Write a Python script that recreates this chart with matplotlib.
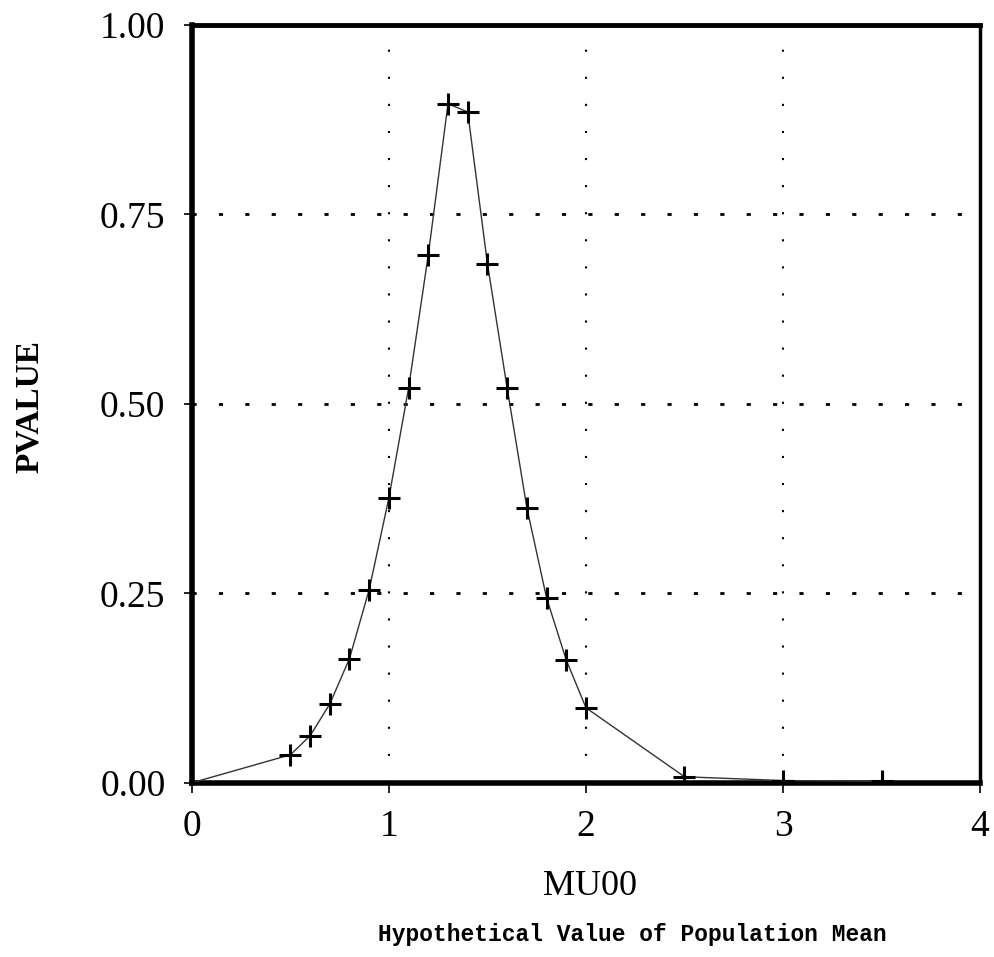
import numpy as np
import matplotlib.pyplot as plt

mu00 = [0.0, 0.5, 0.6, 0.7, 0.8, 0.9, 1.0, 1.1, 1.2, 1.3, 1.4, 1.5, 1.6, 1.7, 1.8, 1.9, 2.0, 2.5, 3.0, 3.5]
pvalue = [0.0, 0.037, 0.062, 0.104, 0.164, 0.255, 0.376, 0.521, 0.697, 0.896, 0.885, 0.685, 0.521, 0.363, 0.244, 0.162, 0.099, 0.008, 0.003, 0.002]

x_ticks = [0, 1, 2, 3, 4]
y_ticks = [0.0, 0.25, 0.5, 0.75, 1.0]

fig = plt.figure(figsize=(9.94, 9.57), dpi=100)
ax = fig.add_axes([0.193, 0.182, 0.793, 0.792])

ax.plot(mu00, pvalue, color='#333333', linewidth=1.0, marker='+',
        markersize=16, markeredgewidth=2.2, markeredgecolor='black', zorder=3)

ax.set_xlim(0, 4)
ax.set_ylim(0, 1)
ax.set_xticks(x_ticks)
ax.set_xticklabels([str(t) for t in x_ticks])
ax.set_yticks(y_ticks)
ax.set_yticklabels([f'{t:.2f}' for t in y_ticks])

# dotted reference lines
for v in [1, 2, 3]:
    ax.axvline(v, color='black', linestyle=(0, (1, 12)), linewidth=1.5, zorder=1)
for v in [0.25, 0.5, 0.75]:
    ax.axhline(v, color='black', linestyle=(0, (1.5, 8)), linewidth=2, zorder=1)

for side in ['left', 'bottom']:
    ax.spines[side].set_linewidth(4)
ax.spines['top'].set_linewidth(3.5)
ax.spines['right'].set_linewidth(2.5)

ax.tick_params(axis='y', direction='out', length=6, width=1.2, pad=13)
ax.tick_params(axis='x', direction='out', length=7, width=1.2, pad=12)
for lab in ax.get_xticklabels() + ax.get_yticklabels():
    lab.set_family('Liberation Serif')
    lab.set_fontsize(27)

fig.text(0.030, 0.575, 'PVALUE', rotation=90, ha='center', va='center',
         fontsize=24, fontweight='bold', family='Liberation Serif')
fig.text(0.594, 0.074, 'MU00', ha='center', va='center', fontsize=26, family='Liberation Serif')
fig.text(0.636, 0.024, 'Hypothetical Value of Population Mean', ha='center', va='center',
         fontsize=16.5, fontweight='bold', family='Liberation Mono')

fig.savefig('out.png', dpi=100)
